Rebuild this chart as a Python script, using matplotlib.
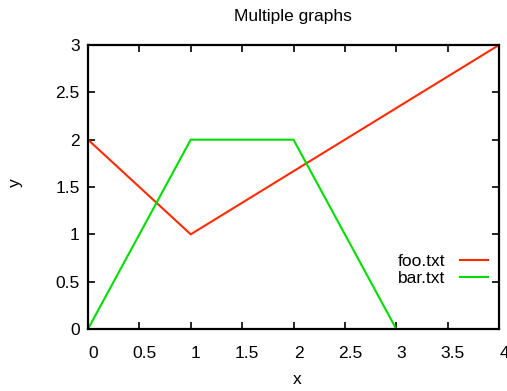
import matplotlib
matplotlib.use('Agg')
import matplotlib.pyplot as plt
import matplotlib.transforms as mtrans

plt.rcParams['font.family'] = ['Liberation Sans', 'DejaVu Sans']

foo_x = [0, 1, 4]
foo_y = [2, 1, 3]
bar_x = [0, 1, 2, 3]
bar_y = [0, 2, 2, 0]
xticks = [0, 0.5, 1, 1.5, 2, 2.5, 3, 3.5, 4]
yticks = [0, 0.5, 1, 1.5, 2, 2.5, 3]

fs = 12.5
fig = plt.figure(figsize=(5.07, 3.91), dpi=100)
ax = fig.add_axes([88 / 507, 62 / 391, 411 / 507, 284 / 391])

ax.plot(foo_x, foo_y, color='#ff2a00', lw=1.5, label='foo.txt')
ax.plot(bar_x, bar_y, color='#00dd00', lw=1.5, label='bar.txt')

ax.set_xlim(0, 4)
ax.set_ylim(0, 3)
ax.set_xticks(xticks)
ax.set_xticklabels(['%g' % t for t in xticks])
ax.set_yticks(yticks)
ax.set_yticklabels(['%g' % t for t in yticks])
ax.tick_params(direction='in', top=True, right=True, length=5, width=1.2,
               labelsize=fs)
ax.tick_params(axis='x', pad=12)
ax.tick_params(axis='y', pad=6)
# gnuplot puts x tick labels a bit right of the tick
shift = mtrans.ScaledTranslation(5 / 100, 0, fig.dpi_scale_trans)
for lab in ax.get_xticklabels():
    lab.set_transform(lab.get_transform() + shift)
for s in ax.spines.values():
    s.set_linewidth(1.6)

ax.set_xlabel('x', fontsize=fs, va='center')
ax.set_ylabel('y', fontsize=fs, rotation=90, va='center')
ax.xaxis.set_label_coords((297 - 88) / 411, (329 - 380) / 284)
ax.yaxis.set_label_coords((15 - 88) / 411, (329 - 183) / 284)
fig.text(293 / 507, 1 - 16 / 391, 'Multiple graphs', ha='center', va='center',
         fontsize=fs)

ax.legend(loc='lower right', bbox_to_anchor=((488 - 88) / 411, 0.15),
          frameon=False, markerfirst=False, fontsize=fs, handlelength=1.6,
          labelspacing=0.15, handletextpad=0.86, borderpad=0, borderaxespad=0)

fig.savefig('out.png', dpi=100)
